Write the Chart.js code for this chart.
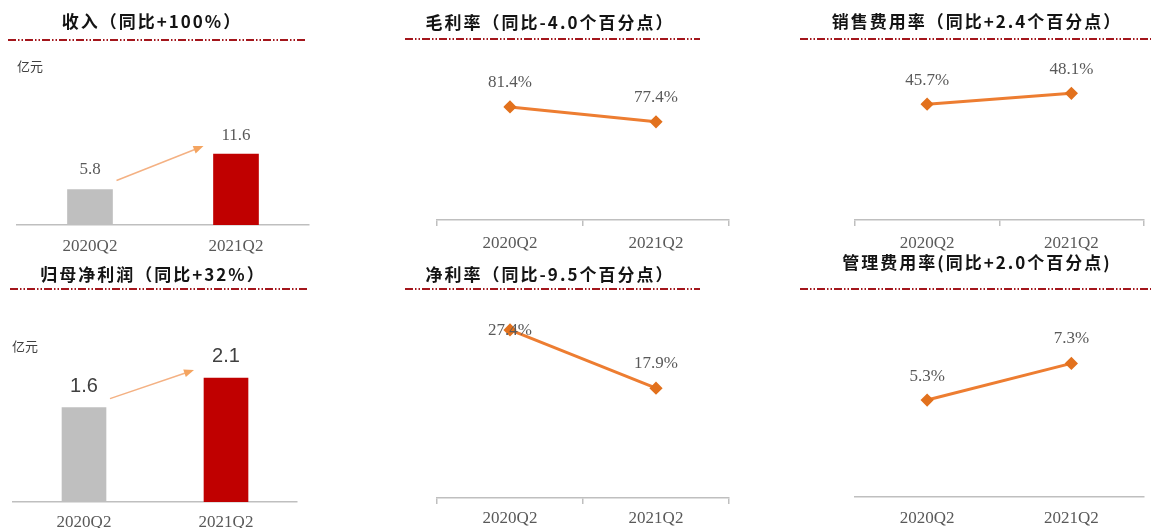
<!DOCTYPE html>
<html>
<head>
<meta charset="utf-8">
<script src="https://cdn.jsdelivr.net/npm/chart.js@4"></script>
<style>
  body { margin: 0; background: #fff; }
  #wrap { position: relative; width: 1151px; height: 528px; overflow: hidden; background: #fff; }
  canvas { position: absolute; }
</style>
</head>
<body>
<div id="wrap">
  <canvas id="revenue" width="330" height="260" style="left:0;top:0"></canvas>
  <canvas id="gross" width="360" height="260" style="left:390px;top:0"></canvas>
  <canvas id="selling" width="361" height="260" style="left:790px;top:0"></canvas>
  <canvas id="profit" width="330" height="278" style="left:0;top:250px"></canvas>
  <canvas id="net" width="360" height="278" style="left:390px;top:250px"></canvas>
  <canvas id="admin" width="361" height="278" style="left:790px;top:250px"></canvas>
</div>
<script>
'use strict';

// quarterly figures
var quarters = ['2020Q2', '2021Q2'];
var revenue = [5.8, 11.6];       // 亿元
var netProfit = [1.6, 2.1];      // 亿元
var grossMargin = [81.4, 77.4];  // %
var netMargin = [27.4, 17.9];    // %
var sellingRate = [45.7, 48.1];  // %
var adminRate = [5.3, 7.3];      // %

var ORANGE = '#ed7d31';
var GREY_TEXT = '#595959';
var AXIS = '#bfbfbf';

// heading, dash-dot rule, unit text and growth arrow
var panelDeco = {
    id: 'panelDeco',
    afterDraw: function(chart, args, o) {
        var ctx = chart.ctx;
        ctx.save();
        ctx.font = 'bold 17px "Noto Sans CJK SC"';
        ctx.letterSpacing = '2px';
        ctx.fillStyle = '#141414';
        ctx.textAlign = 'center';
        ctx.textBaseline = 'middle';
        ctx.fillText(o.title, o.titleX, o.titleY);
        ctx.letterSpacing = '0px';

        ctx.strokeStyle = '#a3161c';
        ctx.lineWidth = 1.8;
        ctx.setLineDash([8, 2, 1.5, 2, 1.5, 2]);
        ctx.beginPath();
        ctx.moveTo(o.ruleFrom, o.ruleY);
        ctx.lineTo(o.ruleTo, o.ruleY);
        ctx.stroke();
        ctx.setLineDash([]);

        if (o.unit) {
            ctx.font = '13px "Noto Sans CJK SC"';
            ctx.fillStyle = '#404040';
            ctx.textAlign = 'left';
            ctx.fillText(o.unit, o.unitX, o.unitY);
        }

        if (o.arrow) {
            var bars = chart.getDatasetMeta(0).data;
            var a = bars[0], b = bars[1];
            var x1 = a.x + a.width / 2 + 4, y1 = a.y - 9;
            var x2 = b.x - b.width / 2 - 10, y2 = b.y - 8;
            var ang = Math.atan2(y2 - y1, x2 - x1);
            ctx.strokeStyle = '#f4b183';
            ctx.fillStyle = '#f4a460';
            ctx.lineWidth = 1.5;
            ctx.beginPath();
            ctx.moveTo(x1, y1);
            ctx.lineTo(x2 - 6 * Math.cos(ang), y2 - 6 * Math.sin(ang));
            ctx.stroke();
            ctx.beginPath();
            ctx.moveTo(x2, y2);
            ctx.lineTo(x2 - 10 * Math.cos(ang) + 4 * Math.sin(ang), y2 - 10 * Math.sin(ang) - 4 * Math.cos(ang));
            ctx.lineTo(x2 - 10 * Math.cos(ang) - 4 * Math.sin(ang), y2 - 10 * Math.sin(ang) + 4 * Math.cos(ang));
            ctx.closePath();
            ctx.fill();
        }
        ctx.restore();
    }
};

// value text above each bar / point
var valueLabels = {
    id: 'valueLabels',
    afterDatasetsDraw: function(chart, args, o) {
        var ctx = chart.ctx;
        var values = chart.data.datasets[0].data;
        ctx.save();
        ctx.font = o.font;
        ctx.fillStyle = o.color;
        ctx.textAlign = 'center';
        ctx.textBaseline = 'middle';
        chart.getDatasetMeta(0).data.forEach(function(el, i) {
            ctx.fillText(values[i].toFixed(1) + (o.suffix || ''), el.x, el.y - o.lift[i]);
        });
        ctx.restore();
    }
};

function xAxis(height, tickMarks, pad) {
    return {
        offset: true,
        grid: {
            display: tickMarks,
            drawTicks: tickMarks,
            drawOnChartArea: false,
            offset: true,
            tickLength: 6,
            color: AXIS,
            lineWidth: 1.5
        },
        border: { display: true, color: AXIS, width: 1.5 },
        ticks: {
            color: GREY_TEXT,
            font: { family: 'Liberation Serif', size: 17 },
            padding: pad,
            maxRotation: 0
        },
        afterFit: function(scale) { scale.height = height; }
    };
}

function barPanel(id, values, p) {
    return new Chart(document.getElementById(id), {
        type: 'bar',
        data: {
            labels: quarters,
            datasets: [{
                data: values,
                backgroundColor: ['#bfbfbf', '#c00000'],
                barThickness: p.barWidth
            }]
        },
        options: {
            responsive: false,
            animation: false,
            layout: { padding: p.padding },
            scales: {
                x: xAxis(p.axisHeight, false, p.tickPad),
                y: { display: false, min: 0, max: p.max }
            },
            plugins: {
                legend: { display: false },
                tooltip: { enabled: false },
                panelDeco: p.deco,
                valueLabels: { font: p.labelFont, color: p.labelColor, lift: p.lift }
            }
        },
        plugins: [panelDeco, valueLabels]
    });
}

function linePanel(id, values, p) {
    return new Chart(document.getElementById(id), {
        type: 'line',
        data: {
            labels: quarters,
            datasets: [{
                data: values,
                borderColor: ORANGE,
                borderWidth: 3,
                pointStyle: 'rectRot',
                pointRadius: 4.5,
                pointBackgroundColor: '#e2711d',
                pointBorderColor: '#e2711d',
                tension: 0
            }]
        },
        options: {
            responsive: false,
            animation: false,
            layout: { padding: p.padding },
            scales: {
                x: xAxis(p.axisHeight, p.tickMarks, p.tickPad),
                y: { display: false, min: p.min, max: p.max }
            },
            plugins: {
                legend: { display: false },
                tooltip: { enabled: false },
                panelDeco: p.deco,
                valueLabels: {
                    font: '17px "Liberation Serif"',
                    color: GREY_TEXT,
                    lift: p.lift,
                    suffix: '%'
                }
            }
        },
        plugins: [panelDeco, valueLabels]
    });
}

barPanel('revenue', revenue, {
    padding: { left: 17, right: 21, top: 60, bottom: 0 },
    axisHeight: 35, tickPad: 11, max: 27, barWidth: 45,
    labelFont: '17px "Liberation Serif"', labelColor: GREY_TEXT, lift: [20, 19],
    deco: {
        title: '收入（同比+100%）', titleX: 152, titleY: 22,
        ruleFrom: 8, ruleTo: 305, ruleY: 40,
        unit: '亿元', unitX: 17, unitY: 66, arrow: true
    }
});

linePanel('gross', grossMargin, {
    padding: { left: 47, right: 21, top: 60, bottom: 0 },
    axisHeight: 40, tickMarks: true, tickPad: 7, min: 51, max: 94,
    lift: [24, 24],
    deco: {
        title: '毛利率（同比-4.0个百分点）', titleX: 160, titleY: 23,
        ruleFrom: 15, ruleTo: 310, ruleY: 39
    }
});

linePanel('selling', sellingRate, {
    padding: { left: 65, right: 4, top: 60, bottom: 0 },
    axisHeight: 40, tickMarks: true, tickPad: 7, min: 20, max: 55.5,
    lift: [24, 24],
    deco: {
        title: '销售费用率（同比+2.4个百分点）', titleX: 187, titleY: 22,
        ruleFrom: 10, ruleTo: 361, ruleY: 39
    }
});

barPanel('profit', netProfit, {
    padding: { left: 13, right: 33, top: 75, bottom: 0 },
    axisHeight: 26, tickPad: 10, max: 3, barWidth: 44,
    labelFont: '20px "Liberation Sans"', labelColor: '#404040', lift: [21, 22],
    deco: {
        title: '归母净利润（同比+32%）', titleX: 153, titleY: 25,
        ruleFrom: 10, ruleTo: 307, ruleY: 39,
        unit: '亿元', unitX: 12, unitY: 96, arrow: true
    }
});

linePanel('net', netMargin, {
    padding: { left: 47, right: 21, top: 64, bottom: 0 },
    axisHeight: 30, tickMarks: true, tickPad: 4, min: 0, max: 30,
    lift: [-1, 25],
    deco: {
        title: '净利率（同比-9.5个百分点）', titleX: 160, titleY: 25,
        ruleFrom: 15, ruleTo: 310, ruleY: 39
    }
});

linePanel('admin', adminRate, {
    padding: { left: 65, right: 4, top: 64, bottom: 0 },
    axisHeight: 31, tickMarks: false, tickPad: 11, min: 0, max: 10,
    lift: [23, 25],
    deco: {
        title: '管理费用率(同比+2.0个百分点)', titleX: 187, titleY: 13,
        ruleFrom: 10, ruleTo: 361, ruleY: 39
    }
});
</script>
</body>
</html>
